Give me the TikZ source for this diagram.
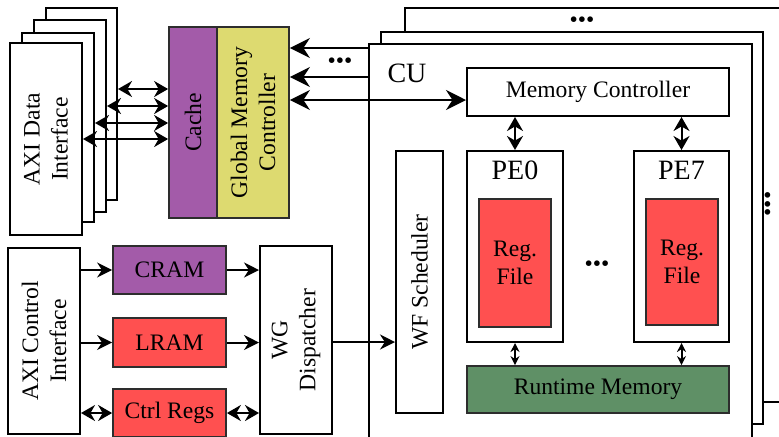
\documentclass[tikz,border=0pt]{standalone}
\usepackage{fontspec}
\setmainfont{Liberation Serif}
\usetikzlibrary{fit,arrows.meta}
\definecolor{cachepurple}{RGB}{163,91,169}
\definecolor{gmcyellow}{RGB}{221,218,112}
\definecolor{regred}{RGB}{255,80,80}
\definecolor{rtgreen}{RGB}{95,144,102}
\definecolor{edgegray}{RGB}{45,45,45}
\begin{document}
\begin{tikzpicture}[x=0.5pt,y=-0.5pt,
  box/.style={draw=black, line width=1pt, fill=white, inner sep=0pt},
  cbox/.style={draw=edgegray, line width=0.9pt, inner sep=0pt},
  txt/.style={font=\fontsize{11.8}{14}\selectfont, align=center},
  big/.style={font=\fontsize{14}{16}\selectfont},
  vtxt/.style={txt, rotate=90},
  dots/.style={font=\fontsize{11.8}{14}\selectfont, inner sep=0pt},
  link/.style={line width=1pt, -{Stealth[length=7.5pt,width=7.5pt]}},
  dlink/.style={line width=1pt, {Stealth[length=7pt,width=8pt]}-{Stealth[length=7pt,width=8pt]}},
  biglink/.style={line width=1pt, -{Stealth[length=10pt,width=10pt]}},
  bigdlink/.style={line width=1pt, {Stealth[length=10pt,width=10pt]}-{Stealth[length=10pt,width=10pt]}},
  tinydlink/.style={line width=1pt, {Stealth[length=4.5pt,width=4.5pt]}-{Stealth[length=4.5pt,width=4.5pt]}},
]
\useasboundingbox (0,0) rectangle (779,436);
\clip (0,0) rectangle (779,436);

% AXI data interface stack
\node[box, fit={(46,8) (117,200)}] (d4) {};
\node[box, fit={(34,20) (106,212)}] (d3) {};
\node[box, fit={(22,33) (94,222)}] (d2) {};
\node[box, fit={(10,43) (82,235)}] (d1) {};
\node[vtxt] (d1txt) at (d1.center) {AXI Data\\Interface};

% cache and global memory controller
\node[cbox, fill=cachepurple, fit={(169,27) (217,218)}] (cache) {};
\node[vtxt] (cachetxt) at (cache.center) {Cache};
\node[cbox, fill=gmcyellow, fit={(217,27) (289,218)}] (gmc) {};
\node[vtxt] (gmctxt) at (gmc.center) {Global Memory\\Controller};

\draw[dlink] (d4.east |- 0,89) -- (cache.west |- 0,89);
\draw[dlink] (d3.east |- 0,106) -- (cache.west |- 0,106);
\draw[dlink] (d2.east |- 0,123) -- (cache.west |- 0,123);
\draw[dlink] (d1.east |- 0,139) -- (cache.west |- 0,139);

% compute unit stack
\node[box, fit={(405,8) (800,402)}] (c3) {};
\node[box, fit={(381,32) (763,424)}] (c2) {};
\node[box, fit={(369,44) (752,450)}] (c1) {};
\node[big] (cutxt) at (407,73) {CU};
\node[dots] (cudots) at (582,22) {•••};
\node[dots, rotate=90] (cuvdots) at (770,204) {•••};

% inside the compute unit
\node[box, fit={(467,68) (729,116)}] (mc) {};
\node[txt] (mctxt) at (mc.center) {Memory Controller};
\node[box, fit={(467,151) (563,342)}] (pe0) {};
\node[big] (pe0txt) at (pe0.north |- 0,170) {PE0};
\node[cbox, fill=regred, fit={(479,199) (551,327)}] (rf0) {};
\node[txt] (rf0txt) at (rf0.center) {Reg.\\File};
\node[box, fit={(634,151) (729,342)}] (pe7) {};
\node[big] (pe7txt) at (pe7.north |- 0,170) {PE7};
\node[cbox, fill=regred, fit={(646,199) (718,325)}] (rf7) {};
\node[txt] (rf7txt) at (rf7.center) {Reg.\\File};
\node[dots] (pedots) at (597,266) {•••};
\node[cbox, fill=rtgreen, fit={(467,366) (729,413)}] (rm) {};
\node[txt] (rmtxt) at (rm.center) {Runtime Memory};
\node[box, fit={(396,151) (443,413)}] (wf) {};
\node[vtxt] (wftxt) at (wf.center) {WF Scheduler};

\draw[dlink] (mc.south -| pe0.north) -- (pe0.north);
\draw[dlink] (mc.south -| pe7.north) -- (pe7.north);
\draw[tinydlink] (pe0.south) -- (rm.north -| pe0.south);
\draw[tinydlink] (pe7.south) -- (rm.north -| pe7.south);

% links between the compute units and the global memory controller
\draw[biglink] (c1.west |- 0,48) -- (gmc.east |- 0,48);
\draw[biglink] (c1.west |- 0,77) -- (gmc.east |- 0,77);
\node[dots] (gmcdots) at (340,63) {•••};
\draw[bigdlink] (gmc.east |- 0,100) -- (mc.west |- 0,100);

% control path
\node[box, fit={(8,248) (80,434)}] (ctl) {};
\node[vtxt] (ctltxt) at (ctl.center) {AXI Control\\Interface};
\node[cbox, fill=cachepurple, fit={(113,246) (226,294)}] (cram) {};
\node[txt] (cramtxt) at (cram.center) {CRAM};
\node[cbox, fill=regred, fit={(113,318) (226,367)}] (lram) {};
\node[txt] (lramtxt) at (lram.center) {LRAM};
\node[cbox, fill=regred, fit={(113,389) (226,437)}] (regs) {};
\node[txt] (regstxt) at (regs.center) {Ctrl Regs};
\node[box, fit={(260,246) (332,434)}] (wg) {};
\node[vtxt] (wgtxt) at (wg.center) {WG\\Dispatcher};

\draw[link] (ctl.east |- cram.west) -- (cram.west);
\draw[link] (ctl.east |- lram.west) -- (lram.west);
\draw[dlink] (ctl.east |- regs.west) -- (regs.west);
\draw[link] (cram.east) -- (wg.west |- cram.east);
\draw[link] (lram.east) -- (wg.west |- lram.east);
\draw[dlink] (regs.east) -- (wg.west |- regs.east);
\draw[link] (wg.east |- 0,342) -- (wf.west |- 0,342);
\end{tikzpicture}
\end{document}
